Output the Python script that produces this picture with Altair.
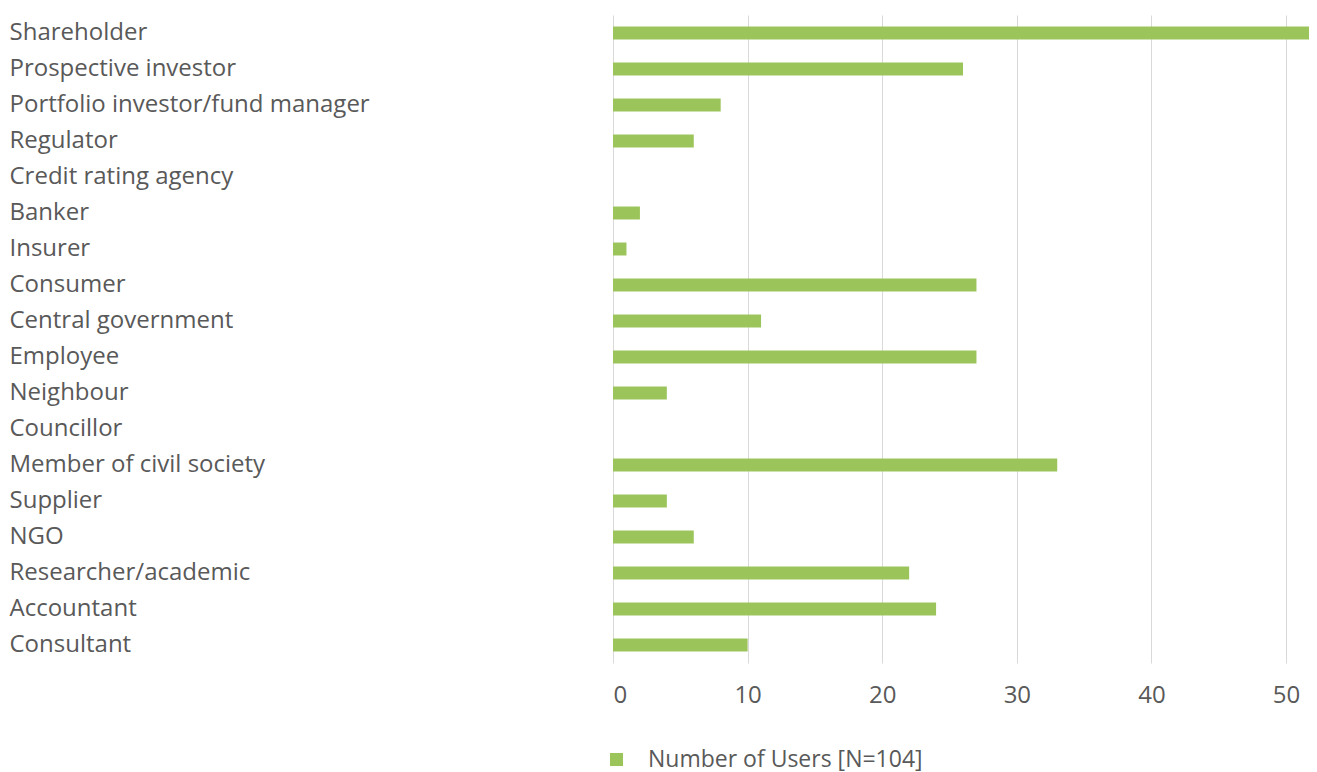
import altair as alt
import pandas as pd

categories = [
    "Shareholder", "Prospective investor", "Portfolio investor/fund manager",
    "Regulator", "Credit rating agency", "Banker", "Insurer", "Consumer",
    "Central government", "Employee", "Neighbour", "Councillor",
    "Member of civil society", "Supplier", "NGO", "Researcher/academic",
    "Accountant", "Consultant",
]
values = [52, 26, 8, 6, 0, 2, 1, 27, 11, 27, 4, 0, 33, 4, 6, 22, 24, 10]
series_name = "Number of Users [N=104]"
x_ticks = [0, 10, 20, 30, 40, 50]

df = pd.DataFrame({"category": categories, "value": values, "series": series_name})

FONT = "Open Sans"
TXT = "#595959"

chart = (
    alt.Chart(df)
    .mark_bar(color="#9bc55a")
    .encode(
        y=alt.Y(
            "category:N",
            sort=categories,
            title=None,
            scale=alt.Scale(paddingInner=0.64, paddingOuter=0.32),
            axis=alt.Axis(
                labelAlign="left",
                labelPadding=604,
                labelLimit=600,
                labelFontSize=24,
                labelColor=TXT,
                labelFont=FONT,
                domain=False,
                ticks=False,
                tickSize=0,
            ),
        ),
        x=alt.X(
            "value:Q",
            title=None,
            scale=alt.Scale(domain=[0, 52], nice=False),
            axis=alt.Axis(
                values=x_ticks,
                domain=False,
                ticks=False,
                tickSize=0,
                grid=True,
                gridColor="#d9d9d9",
                labelFontSize=24,
                labelColor=TXT,
                labelFont=FONT,
                labelPadding=20,
            ),
        ),
        color=alt.Color(
            "series:N",
            scale=alt.Scale(range=["#9bc55a"]),
            legend=alt.Legend(
                title=None,
                orient="none",
                legendX=-8,
                legendY=733,
                symbolType="square",
                symbolSize=169,
                symbolStrokeWidth=0,
                labelFontSize=23,
                labelLimit=500,
                labelColor=TXT,
                labelFont=FONT,
                labelOffset=20,
            ),
        ),
    )
    .properties(width=700, height=648, padding={"left": 1, "top": 7, "right": -4, "bottom": 0})
    .configure_view(stroke=None)
)

chart.save("out.html", embed_options={"renderer": "svg", "actions": False})
